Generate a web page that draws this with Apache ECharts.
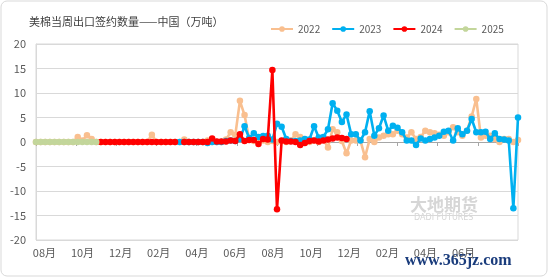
<!DOCTYPE html>
<html><head><meta charset="utf-8">
<script src="https://cdn.jsdelivr.net/npm/echarts@6/dist/echarts.min.js"></script>
<style>html,body{margin:0;padding:0;background:#fff}#c{width:550px;height:279px}</style>
</head><body><div id="c"></div>
<script>
// Month tick labels along the bottom axis
const tickLabels = ['08月','10月','12月','02月','04月','06月','08月','10月','12月','02月','04月','06月'];
const seriesNames = ['2022','2023','2024','2025'];

// Weekly values (万吨), 105 weekly slots across the axis; null = no data
const s2022 = [
  0,0,0,0,0,0,0,0,0,
  1.0,0.3,1.4,0.6,
  0,0,0,0,0,0,0,0,0,0,0,0,
  1.5,
  0,0,0,0,0,0,
  0.5,
  0,0,0,0,
  0.3,
  0,0,0,
  0.5,2.0,1.4,8.4,5.5,0.5,0.2,0,0.3,0,0.2,0,0.2,0,0.3,1.6,1.0,0.2,0,0.3,0,0.5,
  -1.1,2.6,2.0,0.2,-2.3,0.3,0.3,0.3,-3.1,0.6,0,0.9,1.3,1.6,1.6,2.3,1.6,0.9,2.0,0.6,
  1.0,2.3,2.0,1.8,1.5,1.3,2.0,3.0,2.0,1.3,2.3,5.2,8.8,0.9,1.3,1.3,0.6,0,0.6,0.6,0,0.4
];
const s2023 = [
  null,null,null,null,null,null,null,null,null,null,
  null,null,null,null,null,null,null,null,null,null,
  null,null,null,null,null,null,null,null,null,null,null,
  0,0,0,0,0,0,-0.2,0,0,0,0.2,0.3,0.2,
  0.6,3.2,0.8,1.8,1.0,1.2,1.3,0.5,3.7,3.1,0.6,0.2,0.2,0.3,0.6,0.5,3.2,0.9,1.0,2.6,
  7.9,6.4,4.1,5.6,1.6,1.6,0.3,2.0,6.3,1.3,2.8,5.4,2.3,3.3,2.9,2.0,0.3,0.3,-0.6,0.7,
  0.3,0.6,0.9,1.3,2.1,2.3,0.3,2.8,1.6,2.3,4.7,2.0,2.0,2.1,0.6,1.8,0.6,0.5,0.3,-13.5,5.0
];
const s2024 = [
  null,null,null,null,null,null,null,null,null,null,null,null,null,null,
  0,0,0,0,0,0,0,0,0,0,0,0,0,0,0,0,0,
  null,
  0,0,0,0,0,0,
  0.7,0.1,0.1,0.1,0.3,0.2,1.6,0.2,0.4,0.4,-0.4,0.6,0.5,14.7,-13.7,
  0.3,0.1,0.1,0,-0.6,-0.2,0.2,0.3,0.1,0.3,0.5,0.7,0.9,0.8,0.6,
  null,null,null,null,null,null,null,null,null,null,
  null,null,null,null,null,null,null,null,null,null,
  null,null,null,null,null,null,null,null,null,null,
  null,null,null,null,null,null,null
];
const s2025 = [
  0,0,0,0,0,0,0,0,0,0,0,0,0,0
];

const seriesValues = [s2022, s2023, s2024, s2025];
const colors = ['#F9BF8F','#00B0F0','#FF0000','#C3D69B'];
const nWeeks = 105;
const FONT = '"Noto Sans CJK SC", "Noto Sans", sans-serif';

const chart = echarts.init(document.getElementById('c'), null, {renderer: 'canvas'});
const labelOffset = 0.22;

chart.setOption({
  animation: false,
  backgroundColor: '#ffffff',
  textStyle: {fontFamily: FONT},
  title: {
    text: '美棉当周出口签约数量——中国（万吨）',
    left: 24, top: 11,
    textStyle: {fontSize: 11, fontWeight: 'normal', color: '#404040', fontFamily: FONT}
  },
  legend: {
    data: seriesNames,
    left: 265, top: 19,
    itemWidth: 22, itemHeight: 7, itemGap: 11,
    textStyle: {fontSize: 10, color: '#595959', fontFamily: FONT}
  },
  grid: {left: 36, right: 32, top: 44, bottom: 39, show: true, borderColor: '#d9d9d9', borderWidth: 1, backgroundColor: 'transparent'},
  xAxis: [
    {
      type: 'value', min: 0, max: nWeeks - 1, interval: (nWeeks - 1) / 12,
      axisLine: {show: true, onZero: true, lineStyle: {color: '#a6a6a6', width: 1}},
      axisTick: {show: true, length: 4, lineStyle: {color: '#a6a6a6'}},
      axisLabel: {show: false},
      splitLine: {show: false}
    },
    {
      type: 'value', min: 0, max: 12.65, position: 'bottom',
      axisLine: {show: false, onZero: false},
      axisTick: {show: false},
      splitLine: {show: false},
      axisLabel: {
        show: true, margin: 7, fontSize: 11, color: '#595959', fontFamily: FONT,
        customValues: tickLabels.map((t, k) => k + labelOffset),
        formatter: v => tickLabels[Math.round(v - labelOffset)] || ''
      }
    }
  ],
  yAxis: {
    type: 'value', min: -20, max: 20, interval: 5,
    axisLine: {show: true, lineStyle: {color: '#d9d9d9'}},
    axisTick: {show: false},
    axisLabel: {fontSize: 11, color: '#595959', margin: 10, fontFamily: FONT},
    splitLine: {show: true, lineStyle: {color: '#d9d9d9', width: 1}}
  },
  series: seriesNames.map((name, k) => ({
    name: name,
    type: 'line',
    xAxisIndex: 0,
    data: seriesValues[k].map((v, i) => [i, v]),
    symbol: 'circle',
    symbolSize: 6.5,
    showSymbol: true,
    connectNulls: false,
    lineStyle: {width: 2.6, color: colors[k]},
    itemStyle: {color: colors[k]},
    emphasis: {disabled: true},
    z: 2 + k
  })),
  graphic: [
    {type: 'rect', shape: {x: 1, y: 1, width: 546, height: 275, r: 6}, style: {fill: 'none', stroke: '#d9d9d9', lineWidth: 1}, z: -1, silent: true},
    {type: 'text', left: 410, top: 196, style: {text: '大地期货', fontSize: 17, fontWeight: 'bold', fill: '#d6d6d6', fontFamily: FONT}, silent: true},
    {type: 'text', left: 414, top: 214, style: {text: 'DADI FUTURES', fontSize: 8, fill: '#d6d6d6', fontFamily: '"DejaVu Sans", sans-serif'}, silent: true},
    {type: 'text', left: 405, top: 253, style: {text: 'www.365jz.com', fontSize: 16, fontWeight: 'bold', fill: '#1a3c7c', fontFamily: '"Liberation Serif", "DejaVu Serif", serif'}, silent: true}
  ]
});
</script>
</body></html>
